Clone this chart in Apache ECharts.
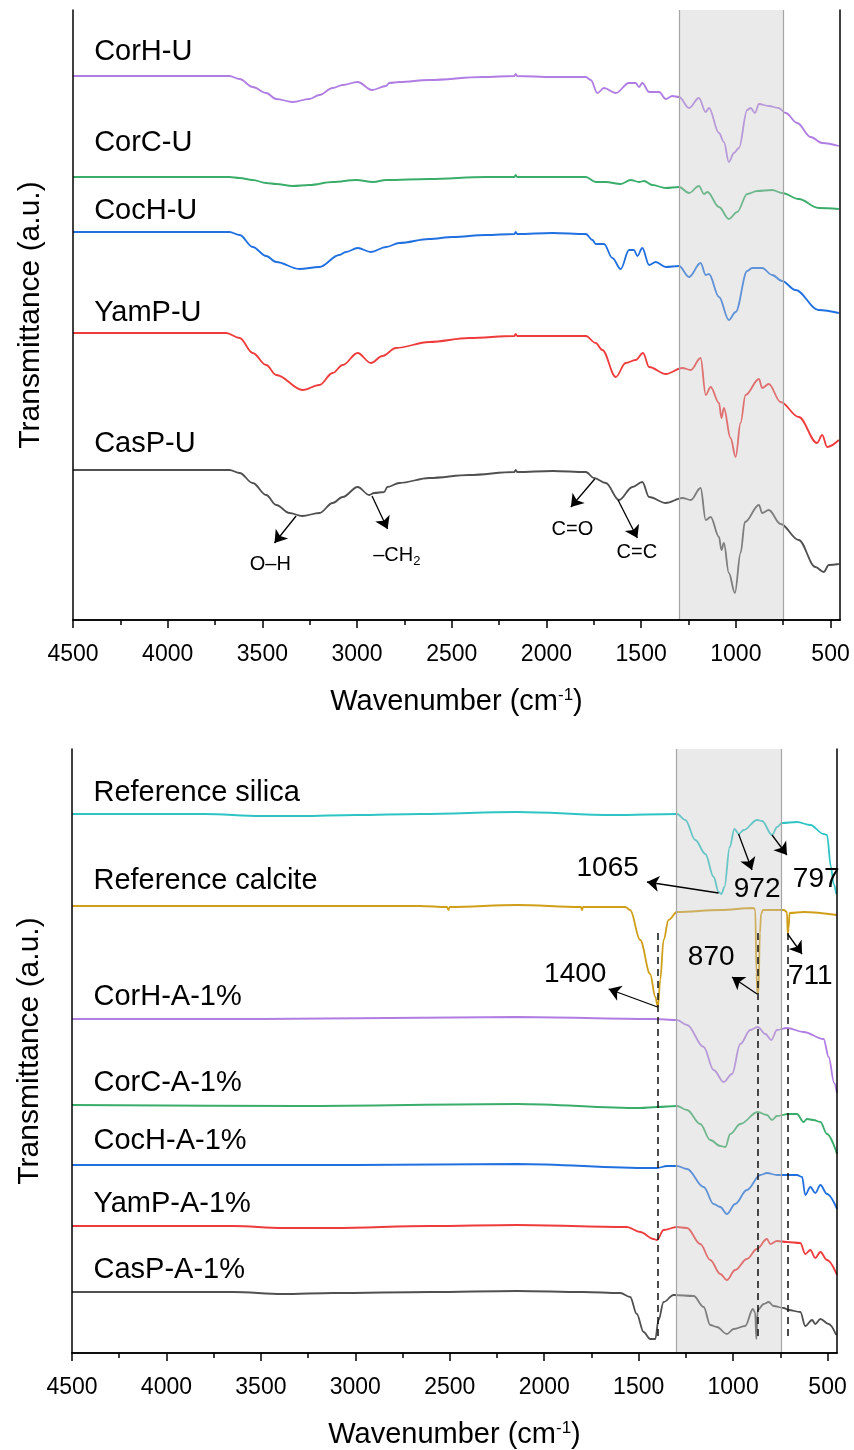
<!DOCTYPE html>
<html>
<head>
<meta charset="utf-8">
<script src="https://cdn.jsdelivr.net/npm/echarts@6/dist/echarts.min.js"></script>
<style>
  html, body { margin: 0; padding: 0; background: #fff; }
  #chart { width: 854px; height: 1450px; }
</style>
</head>
<body>
<div id="chart"></div>
<script>
// FTIR spectra, [wavenumber (cm-1), transmittance (a.u., stacked)]
// --- top panel: untreated ---
const corhU = [[4500,544],[3674,544],[3620,541],[3551,533],[3480,527],[3427,521],[3340,518],[3252,521],[3199,525],[3129,532],[3076,535],[2997,538],[2921,530],[2847,534],[2830,537],[2777,538],[2619,540],[2337,543],[2170,544],[2162,546],[2155,544],[1968,543],[1792,543],[1766,540],[1731,527],[1696,532],[1634,527],[1564,537],[1529,537],[1511,533],[1494,537],[1458,528],[1405,528],[1370,521],[1335,524],[1300,523],[1247,512],[1195,522],[1159,508],[1142,512],[1089,487],[1063,478],[1037,458],[1010,467],[984,472],[940,510],[922,512],[899,507],[878,516],[826,514],[774,512],[737,507],[676,497],[605,483],[544,477],[456,474]];
const corcU = [[4500,443],[3674,443],[3620,442],[3551,440],[3480,437],[3427,436],[3340,434],[3252,435],[3129,438],[3005,440],[2915,438],[2847,440],[2619,441],[2320,443],[2170,443],[2162,445],[2155,443],[1792,443],[1740,438],[1687,438],[1608,436],[1555,440],[1511,438],[1485,439],[1441,435],[1370,432],[1300,433],[1247,427],[1195,434],[1168,426],[1150,428],[1089,413],[1037,401],[993,408],[940,426],[887,429],[808,430],[756,427],[668,421],[563,412],[456,411]];
const cochU = [[4500,388],[3674,388],[3620,385],[3551,373],[3480,364],[3427,358],[3305,351],[3199,353],[3094,365],[3059,368],[2997,372],[2927,368],[2847,373],[2777,377],[2619,381],[2495,383],[2320,385],[2170,386],[2162,388],[2155,386],[1968,387],[1792,386],[1757,380],[1740,376],[1696,376],[1652,362],[1608,351],[1564,370],[1538,370],[1520,364],[1494,372],[1458,355],[1423,358],[1370,353],[1300,354],[1247,343],[1186,357],[1159,345],[1142,346],[1089,323],[1037,300],[1001,308],[940,349],[914,352],[861,352],[808,345],[756,339],[685,330],[563,310],[456,307]];
const yampU = [[4500,287],[3691,287],[3620,282],[3551,267],[3480,255],[3427,245],[3287,230],[3199,235],[3129,247],[3076,255],[2997,267],[2927,257],[2866,264],[2795,272],[2619,278],[2408,282],[2170,284],[2162,286],[2155,284],[1968,284],[1792,284],[1740,277],[1705,270],[1634,243],[1582,257],[1529,260],[1490,267],[1458,253],[1370,246],[1282,252],[1238,250],[1186,262],[1159,225],[1133,233],[1089,217],[1076,202],[1063,212],[1028,182],[1001,163],[975,197],[949,225],[878,241],[861,232],[826,236],[764,218],[668,203],[571,177],[544,185],[518,173],[456,180]];
const caspU = [[4500,150],[3674,150],[3620,147],[3551,137],[3480,125],[3427,115],[3357,107],[3290,104],[3199,107],[3129,117],[3076,123],[2997,133],[2936,125],[2910,127],[2857,128],[2840,133],[2777,137],[2619,142],[2408,145],[2170,148],[2162,150],[2155,148],[1968,149],[1792,148],[1749,142],[1687,137],[1617,120],[1546,133],[1494,138],[1458,123],[1370,117],[1282,122],[1238,120],[1186,132],[1159,100],[1133,103],[1089,83],[1076,70],[1063,77],[1037,47],[1005,27],[975,67],[952,98],[878,115],[861,107],[826,110],[764,96],[668,80],[580,53],[536,48],[509,55],[456,56]];

// --- bottom panel: references and acid treated ---
const silica = [[4500,539],[3800,539],[3500,537],[3292,537],[3000,538],[2657,539],[2145,541],[1633,538],[1297,539],[1253,533],[1200,513],[1147,499],[1103,476],[1077,461],[1062,459],[1046,466],[1018,506],[993,524],[970,519],[944,523],[873,533],[847,532],[794,518],[767,526],[741,530],[662,531],[591,528],[521,519],[503,518],[482,486],[468,469],[454,459]];
const calcite = [[4500,447],[2657,447],[2515,446],[2507,443],[2500,446],[2145,448],[1806,446],[1800,443],[1794,446],[1571,446],[1545,443],[1492,413],[1439,379],[1412,356],[1398,346],[1386,373],[1368,413],[1342,433],[1297,441],[1068,443],[892,445],[883,443],[876,380],[872,360],[866,360],[858,420],[852,439],[842,443],[732,443],[715,441],[711,419],[706,425],[701,440],[627,441],[450,438]];
const corhA = [[4500,334],[3500,334],[2145,336],[1421,334],[1297,333],[1244,328],[1156,306],[1103,283],[1050,271],[1006,279],[962,309],[909,323],[870,326],[829,319],[798,313],[768,323],[715,325],[627,321],[521,314],[494,296],[465,270],[450,260]];
const corcA = [[4500,248],[3300,247],[2145,249],[1492,245],[1403,246],[1297,247],[1244,243],[1174,229],[1121,213],[1068,207],[1041,206],[1015,219],[962,229],[870,241],[821,238],[794,233],[768,237],[706,239],[662,239],[627,231],[609,234],[574,233],[538,231],[503,219],[450,199]];
const cochA = [[4500,188],[3000,188],[2145,189],[1439,185],[1403,185],[1350,187],[1297,187],[1244,184],[1156,166],[1103,149],[1068,146],[1033,139],[989,149],[927,163],[856,178],[821,180],[768,178],[662,178],[635,176],[618,158],[591,166],[565,160],[538,168],[503,159],[450,144]];
const yampA = [[4500,127],[3646,127],[3386,125],[3116,125],[2604,127],[2145,128],[1562,126],[1492,121],[1421,114],[1403,113],[1368,123],[1297,126],[1244,125],[1174,109],[1121,93],[1068,79],[1033,73],[989,83],[927,94],[874,104],[821,114],[803,109],[768,112],[715,111],[644,110],[618,99],[591,103],[565,95],[538,101],[503,93],[450,78]];
const caspA = [[4500,61],[3646,61],[3386,59],[3116,60],[2604,61],[2145,62],[1792,61],[1597,60],[1545,56],[1510,39],[1474,21],[1439,14],[1412,14],[1395,33],[1368,51],[1315,58],[1209,57],[1156,46],[1121,28],[1086,26],[1033,19],[997,24],[936,27],[895,44],[883,40],[877,14],[870,43],[838,49],[812,51],[786,47],[732,45],[706,43],[644,41],[618,27],[582,33],[565,29],[538,34],[494,29],[454,18]];

const topNames = ['CorH-U', 'CorC-U', 'CocH-U', 'YamP-U', 'CasP-U'];
const topData = [corhU, corcU, cochU, yampU, caspU];
const bottomNames = ['Reference silica', 'Reference calcite', 'CorH-A-1%', 'CorC-A-1%', 'CocH-A-1%', 'YamP-A-1%', 'CasP-A-1%'];
const bottomData = [silica, calcite, corhA, corcA, cochA, yampA, caspA];

// label anchor (wavenumber, a.u.)
const topLabelPos = [[4391,568],[4391,477],[4391,409],[4391,307],[4391,176]];
const bottomLabelPos = [[4389,560],[4389,472],[4389,356],[4389,270],[4389,212],[4389,149],[4389,83]];

// peak assignments: text, wavenumber, a.u.
const topNotes = [['O–H',3458,56],['–CH{sub|2}',2790,65],['C=O',1863,91],['C=C',1523,68]];
const topArrows = [[3322,104,3436,77],[2921,124,2839,91],[1745,141,1871,113],[1622,120,1520,82]];
const bottomNotes = [['1065',1664,485],['972',873,464],['797',560,474],['1400',1836,379],['870',1116,396],['711',591,377]];
const bottomArrows = [[1077,460,1456,471],[971,519,900,483],[794,518,715,498],[1400,346,1659,364],[873,359,1006,376],[711,419,635,399]];
const dashedPeaks = [1400, 870, 711];
const dashedSpan = [420, 16];

const topBand = [1300, 750];
const bottomBand = [1300, 745];

const majorTicks = [4500, 4000, 3500, 3000, 2500, 2000, 1500, 1000, 500];
const minorTicks = [4250, 3750, 3250, 2750, 2250, 1750, 1250, 750];

const topColors = ['#b07de3', '#3aad6a', '#2070e0', '#ee3b3b', '#505050'];
const bottomColors = ['#2ec4c4', '#d09f1a', '#b07de3', '#3aad6a', '#2070e0', '#ee3b3b', '#505050'];

const FONT = "'Liberation Sans', Arial, Helvetica, sans-serif";
const X_MIN = 450, X_MAX = 4500;
const Y_MAX = [610, 604];

const chart = echarts.init(document.getElementById('chart'), null, { renderer: 'canvas' });

function xAxes(gi) {
  const base = { gridIndex: gi, type: 'value', min: X_MIN, max: X_MAX, inverse: true, z: 10, splitLine: { show: false } };
  return [
    Object.assign({}, base, {
      position: 'bottom',
      axisLine: { lineStyle: { color: '#000', width: 1.5 } },
      axisTick: { customValues: majorTicks, length: 8, lineStyle: { color: '#000', width: 1.5 } },
      axisLabel: { customValues: majorTicks, fontSize: 23, color: '#000', fontFamily: FONT, margin: 23,
        formatter: v => String(v) },
      name: 'Wavenumber (cm{sup|-1})',
      nameLocation: 'middle',
      nameGap: 67,
      nameTextStyle: {
        fontSize: 29, color: '#000', fontFamily: FONT,
        rich: { sup: { fontSize: 17, color: '#000', fontFamily: FONT, verticalAlign: 'top' } }
      }
    }),
    Object.assign({}, base, {
      position: 'top',
      axisLine: { lineStyle: { color: '#000', width: 1.5 } },
      axisTick: { show: false }, axisLabel: { show: false }
    }),
    Object.assign({}, base, {
      position: 'bottom',
      axisLine: { show: false },
      axisTick: { customValues: minorTicks, length: 5, lineStyle: { color: '#000', width: 1.5 } },
      axisLabel: { show: false }
    })
  ];
}

function yAxes(gi) {
  const base = { gridIndex: gi, type: 'value', min: 0, max: Y_MAX[gi], z: 10, splitLine: { show: false },
    axisTick: { show: false }, axisLabel: { show: false }, axisLine: { lineStyle: { color: '#000', width: 1.5 } } };
  return [
    Object.assign({}, base, {
      position: 'left',
      name: 'Transmittance (a.u.)',
      nameLocation: 'middle',
      nameGap: 27,
      nameTextStyle: { fontSize: 30, color: '#000', fontFamily: FONT }
    }),
    Object.assign({}, base, { position: 'right' })
  ];
}

function panelSeries(gi, names, data, colors, labelPos, notes, arrows, band, noteSize) {
  const xi = gi * 3, yi = gi * 2;
  const out = names.map((n, i) => ({
    type: 'line', name: n, data: data[i], xAxisIndex: xi, yAxisIndex: yi,
    symbol: 'none', smooth: 0.35, smoothMonotone: 'x', silent: true, z: 2,
    lineStyle: { color: colors[i], width: 1.8 }
  }));

  // grey band drawn over the spectra, semi-transparent
  out.push({
    type: 'line', xAxisIndex: xi, yAxisIndex: yi, silent: true, z: 3,
    data: [[band[0], Y_MAX[gi]], [band[1], Y_MAX[gi]]],
    symbol: 'none', lineStyle: { width: 0 },
    areaStyle: { color: 'rgba(200,200,200,0.55)', origin: 'start' },
    markLine: {
      silent: true, symbol: ['none', 'none'], label: { show: false },
      lineStyle: { color: '#a6a6a6', width: 1.2, type: 'solid' },
      data: [{ xAxis: band[0] }, { xAxis: band[1] }]
    }
  });

  // sample names
  out.push({
    type: 'scatter', xAxisIndex: xi, yAxisIndex: yi, silent: true, z: 4,
    symbolSize: 1, itemStyle: { color: 'rgba(0,0,0,0)', opacity: 1 },
    data: names.map((n, i) => ({ name: n, value: labelPos[i] })),
    label: { show: true, position: 'right', distance: 0, formatter: p => p.name,
      fontSize: 29, color: '#000', fontFamily: FONT }
  });

  // peak notes + arrows
  out.push({
    type: 'scatter', xAxisIndex: xi, yAxisIndex: yi, silent: true, z: 4,
    symbolSize: 1, itemStyle: { color: 'rgba(0,0,0,0)', opacity: 1 },
    data: notes.map(n => ({ name: n[0], value: [n[1], n[2]] })),
    label: { show: true, position: 'inside', formatter: p => p.name,
      fontSize: noteSize, color: '#000', fontFamily: FONT, lineHeight: noteSize + 6,
      rich: { sub: { fontSize: Math.round(noteSize * 0.65), color: '#000', fontFamily: FONT, verticalAlign: 'bottom' } } },
    markLine: {
      silent: true, symbol: ['none', 'arrow'], symbolSize: 12, label: { show: false },
      lineStyle: { color: '#000', width: 1.3, type: 'solid' },
      data: arrows.map(a => [{ coord: [a[0], a[1]] }, { coord: [a[2], a[3]] }])
    }
  });
  return out;
}

const series = []
  .concat(panelSeries(0, topNames, topData, topColors, topLabelPos, topNotes, topArrows, topBand, 20))
  .concat(panelSeries(1, bottomNames, bottomData, bottomColors, bottomLabelPos, bottomNotes, bottomArrows, bottomBand, 28));

// dashed guide lines through the calcite peaks
series.push({
  type: 'line', xAxisIndex: 3, yAxisIndex: 2, data: [], silent: true, z: 5,
  markLine: {
    silent: true, symbol: ['none', 'none'], label: { show: false },
    lineStyle: { color: '#111', width: 1.5, type: [7, 5] },
    data: dashedPeaks.map(w => [{ coord: [w, dashedSpan[0]] }, { coord: [w, dashedSpan[1]] }])
  }
});

chart.setOption({
  animation: false,
  backgroundColor: '#fff',
  grid: [
    { left: 73, top: 10, width: 767, height: 610 },
    { left: 72, top: 749, width: 765, height: 604 }
  ],
  xAxis: xAxes(0).concat(xAxes(1)),
  yAxis: yAxes(0).concat(yAxes(1)),
  series: series
});
</script>
</body>
</html>
